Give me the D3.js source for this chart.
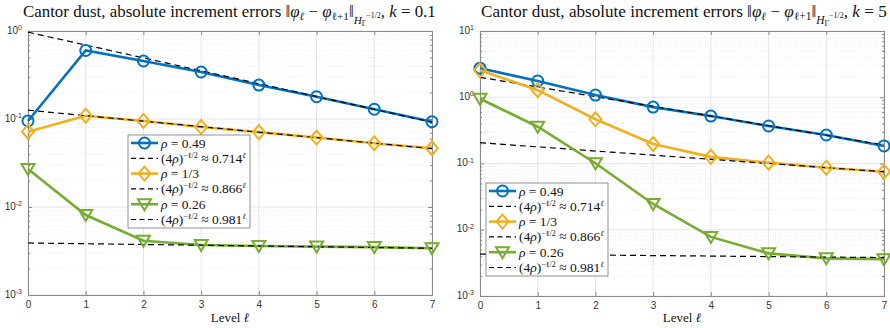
<!DOCTYPE html>
<html>
<head>
<meta charset="utf-8">
<script src="https://cdn.jsdelivr.net/npm/d3@7"></script>
<style>
  body { margin: 0; background: #fff; }
  svg { display: block; }
  .tick text { font-family: "Liberation Sans", Arial, sans-serif; }
</style>
</head>
<body>
<div id="chart"></div>
<script>
// level axis
const levels = [0, 1, 2, 3, 4, 5, 6, 7];
const refLevels = [0, 7];
const decadesLeft = [1e-3, 1e-2, 1e-1, 1e0];
const decadesRight = [1e-3, 1e-2, 1e-1, 1e0, 1e1];

// k = 0.1 panel
const k01Rho049 = [0.095, 0.60, 0.456, 0.342, 0.243, 0.179, 0.129, 0.093];
const k01Rho033 = [0.0718, 0.109, 0.095, 0.081, 0.071, 0.0615, 0.053, 0.0465];
const k01Rho026 = [0.027, 0.0081, 0.00414, 0.0037, 0.0036, 0.00355, 0.0035, 0.0034];
const k01Ref049 = [0.97, 0.092];
const k01Ref033 = [0.126, 0.046];
const k01Ref026 = [0.0039, 0.0034];

// k = 5 panel
const k5Rho049 = [2.75, 1.76, 1.08, 0.71, 0.52, 0.368, 0.269, 0.184];
const k5Rho033 = [2.55, 1.28, 0.465, 0.197, 0.126, 0.103, 0.0865, 0.0752];
const k5Rho026 = [0.95, 0.359, 0.101, 0.0245, 0.0078, 0.0044, 0.0037, 0.0036];
const k5Ref049 = [2.0, 0.19];
const k5Ref033 = [0.206, 0.075];
const k5Ref026 = [0.0043, 0.0038];

const legendRho = ["0.49", "1/3", "0.26"];
const legendRate = ["0.714", "0.866", "0.981"];

const colors = ["#0072BD", "#EDB120", "#77AC30"];
const markers = ["circle", "diamond", "triangle"];

const width = 890, height = 328;
const svg = d3.select('#chart').append('svg')
  .attr('width', width).attr('height', height);

function markerPath(type) {
  if (type === 'circle') return d3.symbol(d3.symbolCircle, 95)();
  if (type === 'diamond') return 'M0,-7L6,0L0,7L-6,0Z';
  return 'M-6.5,-5L6.5,-5L0,6Z';
}

function drawMarker(g, type, color) {
  g.append('path')
    .attr('d', markerPath(type))
    .attr('fill', 'none')
    .attr('stroke', color)
    .attr('stroke-width', 2);
}

function drawPanel(opts) {
  const x = d3.scaleLinear().domain([0, 7]).range([opts.left, opts.right]);
  const y = d3.scaleLog().domain(opts.domain).range([opts.bottom, opts.top]);
  const g = svg.append('g');

  // minor grid
  const minor = [];
  for (const d of opts.decades.slice(0, -1)) {
    for (let m = 2; m <= 9; m++) minor.push(d * m);
  }
  g.append('g').selectAll('line').data(minor).join('line')
    .attr('x1', opts.left).attr('x2', opts.right)
    .attr('y1', d => y(d)).attr('y2', d => y(d))
    .attr('stroke', '#e4e4e4').attr('stroke-width', 0.7)
    .attr('stroke-dasharray', '1,1.5');

  // major grid
  g.append('g').selectAll('line').data(opts.decades).join('line')
    .attr('x1', opts.left).attr('x2', opts.right)
    .attr('y1', d => y(d)).attr('y2', d => y(d))
    .attr('stroke', '#e0e0e0').attr('stroke-width', 0.8);
  g.append('g').selectAll('line').data(levels).join('line')
    .attr('x1', d => x(d)).attr('x2', d => x(d))
    .attr('y1', opts.top).attr('y2', opts.bottom)
    .attr('stroke', '#e0e0e0').attr('stroke-width', 0.8);

  // axes
  const xAxis = g.append('g')
    .attr('transform', `translate(0,${opts.bottom})`)
    .call(d3.axisBottom(x).tickValues(levels).tickSize(-4).tickPadding(6).tickFormat(d3.format('d')));
  xAxis.selectAll('text').attr('font-size', 10).attr('fill', '#333');
  g.append('g')
    .attr('transform', `translate(0,${opts.top})`)
    .call(d3.axisTop(x).tickValues(levels).tickSize(-4).tickFormat(''));

  const yAxis = g.append('g')
    .attr('transform', `translate(${opts.left},0)`)
    .call(d3.axisLeft(y).tickValues(opts.decades).tickSize(-4).tickPadding(4).tickFormat(''));
  yAxis.selectAll('.tick').append('text')
    .attr('x', -6).attr('dy', '0.2em')
    .attr('text-anchor', 'end').attr('fill', '#333')
    .attr('font-size', 10)
    .each(function(d) {
      const t = d3.select(this);
      t.append('tspan').text('10');
      t.append('tspan').attr('dy', '-0.5em').attr('font-size', 7).text(Math.round(Math.log10(d)));
    });
  g.append('g')
    .attr('transform', `translate(${opts.left},0)`)
    .call(d3.axisLeft(y).tickValues(minor).tickSize(-2).tickFormat(''));
  g.append('g')
    .attr('transform', `translate(${opts.right},0)`)
    .call(d3.axisRight(y).tickValues(opts.decades).tickSize(-4).tickFormat(''));
  g.append('g')
    .attr('transform', `translate(${opts.right},0)`)
    .call(d3.axisRight(y).tickValues(minor).tickSize(-2).tickFormat(''));
  g.selectAll('.domain').attr('stroke', '#8a8a8a');
  g.selectAll('.tick line').attr('stroke', '#8a8a8a');

  // series
  const line = d3.line().x((d, i) => x(levels[i])).y(d => y(d));
  const refLine = d3.line().x((d, i) => x(refLevels[i])).y(d => y(d));

  opts.series.forEach((vals, s) => {
    g.append('path').datum(vals)
      .attr('d', line)
      .attr('fill', 'none').attr('stroke', colors[s]).attr('stroke-width', 2.6);
    g.append('path').datum(opts.refs[s])
      .attr('d', refLine)
      .attr('fill', 'none').attr('stroke', '#000').attr('stroke-width', 1.2)
      .attr('stroke-dasharray', '6,4');
    g.append('g').selectAll('g').data(vals).join('g')
      .attr('transform', (d, i) => `translate(${x(levels[i])},${y(d)})`)
      .each(function() { drawMarker(d3.select(this), markers[s], colors[s]); });
  });

  // title, scaled to span the same width as in the original
  const tg = g.append('g');
  const title = tg.append('text')
    .attr('x', 0).attr('y', 0)
    .attr('font-family', '"Liberation Serif", "Times New Roman", serif')
    .attr('font-size', 15).attr('fill', '#111');
  title.append('tspan').text('Cantor dust, absolute increment errors ‖');
  title.append('tspan').attr('font-style', 'italic').text('φ');
  title.append('tspan').attr('font-style', 'italic').attr('font-size', 10).attr('dy', 3).text('ℓ');
  title.append('tspan').attr('dy', -3).text(' − ');
  title.append('tspan').attr('font-style', 'italic').text('φ');
  title.append('tspan').attr('font-size', 10).attr('dy', 3).text('ℓ+1');
  title.append('tspan').attr('dy', -3).text('‖');
  title.append('tspan').attr('font-style', 'italic').attr('font-size', 10).attr('dy', 6).text('H');
  title.append('tspan').attr('font-size', 7).attr('dy', 2).text('Γ');
  title.append('tspan').attr('font-size', 7).attr('dy', -7).text('−1/2');
  title.append('tspan').attr('dy', -1).text(', ');
  title.append('tspan').attr('font-style', 'italic').text('k');
  title.append('tspan').text(' = ' + opts.k);
  const tw = title.node().getComputedTextLength();
  const sc = opts.titleWidth / tw;
  tg.attr('transform', `translate(${opts.titleX},17) scale(${sc})`);

  // x label
  const xl = g.append('text')
    .attr('x', (opts.left + opts.right) / 2).attr('y', 322)
    .attr('text-anchor', 'middle')
    .attr('font-family', '"Liberation Serif", serif')
    .attr('font-size', 13).attr('fill', '#111');
  xl.append('tspan').text('Level ');
  xl.append('tspan').attr('font-style', 'italic').text('ℓ');

  // legend
  const lg = g.append('g').attr('transform', `translate(${opts.legend[0]},${opts.legend[1]})`);
  lg.append('rect').attr('width', 122).attr('height', 93)
    .attr('fill', '#fff').attr('stroke', '#777').attr('stroke-width', 0.8);
  const rowH = 15.3;
  legendRho.forEach((rho, s) => {
    const y0 = 8 + rowH * 2 * s;
    const y1 = y0 + rowH;
    lg.append('line').attr('x1', 3).attr('x2', 30).attr('y1', y0).attr('y2', y0)
      .attr('stroke', colors[s]).attr('stroke-width', 2.6);
    drawMarker(lg.append('g').attr('transform', `translate(16.5,${y0})`), markers[s], colors[s]);
    lg.append('line').attr('x1', 3).attr('x2', 30).attr('y1', y1).attr('y2', y1)
      .attr('stroke', '#000').attr('stroke-width', 1.2).attr('stroke-dasharray', '5,3.5');
    const t0 = lg.append('text').attr('x', 33).attr('y', y0 + 4.5)
      .attr('font-family', '"Liberation Serif", serif').attr('font-size', 13.5).attr('fill', '#111');
    t0.append('tspan').attr('font-style', 'italic').text('ρ');
    t0.append('tspan').text(' = ' + rho);
    const t1 = lg.append('text').attr('x', 33).attr('y', y1 + 4.5)
      .attr('font-family', '"Liberation Serif", serif').attr('font-size', 13.5).attr('fill', '#111');
    t1.append('tspan').text('(4');
    t1.append('tspan').attr('font-style', 'italic').text('ρ');
    t1.append('tspan').text(')');
    t1.append('tspan').attr('font-size', 8).attr('dy', -5).text('−ℓ/2');
    t1.append('tspan').attr('dy', 5).text(' ≈ ' + legendRate[s]);
    t1.append('tspan').attr('font-size', 8).attr('font-style', 'italic').attr('dy', -5).text('ℓ');
  });
}

drawPanel({
  left: 28, right: 432, top: 31, bottom: 295,
  domain: [1e-3, 1e0], decades: decadesLeft, k: '0.1',
  series: [k01Rho049, k01Rho033, k01Rho026],
  refs: [k01Ref049, k01Ref033, k01Ref026],
  legend: [128, 135], titleX: 23, titleWidth: 413
});

drawPanel({
  left: 480, right: 884, top: 31, bottom: 296,
  domain: [1e-3, 1e1], decades: decadesRight, k: '5',
  series: [k5Rho049, k5Rho033, k5Rho026],
  refs: [k5Ref049, k5Ref033, k5Ref026],
  legend: [486, 183], titleX: 481, titleWidth: 406
});
</script>
</body>
</html>
